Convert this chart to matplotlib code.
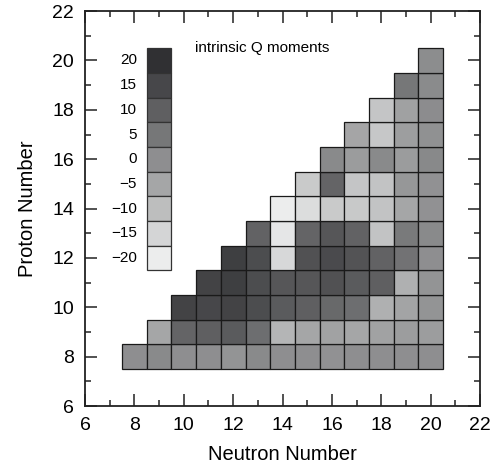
import numpy as np
import matplotlib
matplotlib.use("Agg")
import matplotlib.pyplot as plt
from matplotlib.colors import LinearSegmentedColormap, Normalize

plt.rcParams['font.family'] = ['Liberation Sans', 'DejaVu Sans']

# intrinsic Q moments, one list per proton number Z, starting at N = Z
# (row Z=8 starts at N=8), running up to N = 20
q_z8 = [0, 1, 0, 0, -1, 1, 0, 0, -0.5, 0, 0, 0, 0]
q_z9 = [-5, 9, 10, 11, 7, -8, -5, -4, -5, -4, -3, -3]
q_z10 = [16, 15, 16, 14, 11, 10, 8, 7, -7, -4.5, -1]
q_z11 = [16, 17, 14, 12, 12, 13, 11, 10, -7, -1]
q_z12 = [17, 14, -15.5, 13, 14.5, 12.5, 9.5, 6, 0]
q_z13 = [9.5, -18.5, 9, 12, 9.5, -11, 4.5, 1]
q_z14 = [-20, -16.5, -12.5, -12.3, -11, -5, -0.5]
q_z15 = [-12.5, 9, -11.5, -11, -1.7, -0.5]
q_z16 = [1, -2.8, 1, -2.8, 1.3]
q_z17 = [-4.7, -12, -3.2, -0.4]
q_z18 = [-11.5, -3.9, 0.6]
q_z19 = [5, 0.9]
q_z20 = [0.4]

rows = [q_z8, q_z9, q_z10, q_z11, q_z12, q_z13, q_z14,
        q_z15, q_z16, q_z17, q_z18, q_z19, q_z20]
protons = np.arange(8, 21)
last_neutron = 20

legend_levels = [20, 15, 10, 5, 0, -5, -10, -15, -20]
legend_labels = ["20", "15", "10", "5", "0", "\u22125", "\u221210", "\u221215", "\u221220"]

cmap = LinearSegmentedColormap.from_list(
    "qgray", [(0.925, 0.93, 0.93), (0.19, 0.19, 0.20)])
norm = Normalize(vmin=-20, vmax=20)

fig = plt.figure(figsize=(4.97, 4.63), dpi=100)
ax = fig.add_axes([0.171, 0.123, 0.795, 0.853])

# one row of cells per proton number
for z, vals in zip(protons, rows):
    n = np.arange(last_neutron - len(vals) + 1, last_neutron + 1)
    ax.bar(n, 1.0, bottom=z - 0.5, width=1.0, color=cmap(norm(vals)),
           edgecolor="#1a1a1a", linewidth=0.9)

# legend strip
ax.bar(np.full(len(legend_levels), 9), 1.0,
       bottom=np.arange(20, 11, -1) - 0.5, width=1.0,
       color=cmap(norm(legend_levels)), edgecolor="#333333", linewidth=0.9)
for i, lab in enumerate(legend_labels):
    ax.text(8.1, 20 - i, lab, ha="right", va="center", fontsize=11)
ax.text(10.45, 20.52, "intrinsic Q moments", ha="left", va="center", fontsize=11)

ax.set_xlim(6, 22)
ax.set_ylim(6, 22)
ax.set_xticks(np.arange(6, 23, 2))
ax.set_yticks(np.arange(6, 23, 2))
ax.set_xticks(np.arange(7, 22, 2), minor=True)
ax.set_yticks(np.arange(7, 22, 2), minor=True)
ax.tick_params(which="both", direction="in", top=True, right=True,
               labelsize=14, width=1.1, color="#222222")
ax.tick_params(which="major", length=8.5)
ax.tick_params(axis="x", which="major", pad=8)
ax.tick_params(axis="y", which="major", pad=8)
ax.tick_params(which="minor", length=4.3)
for s in ax.spines.values():
    s.set_linewidth(1.3)
    s.set_color("#222222")

ax.set_xlabel("Neutron Number", fontsize=14.5, labelpad=8)
ax.set_ylabel("Proton Number", fontsize=14.5, labelpad=11)

fig.savefig("out.png", dpi=100)
